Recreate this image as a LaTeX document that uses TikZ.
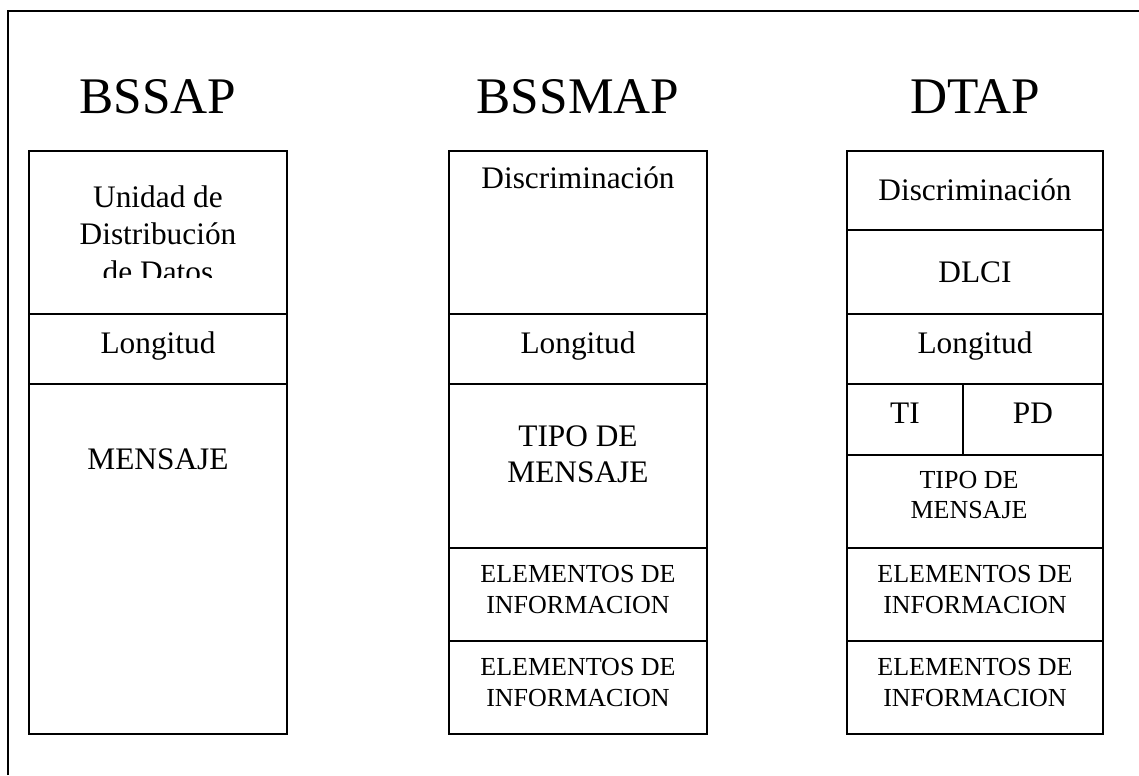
\documentclass[tikz,border=0pt]{standalone}
\usepackage{fontspec}
\setmainfont{Liberation Serif}
\begin{document}
\begin{tikzpicture}[x=0.75pt, y=-0.75pt, line width=1.5pt,
					title/.style={anchor=base, inner sep=0pt, font=\fontsize{38.5}{44}\selectfont},
					big/.style={anchor=base, inner sep=0pt, align=center, font=\fontsize{23.5}{27}\selectfont},
					small/.style={anchor=base, inner sep=0pt, align=center, font=\fontsize{19.5}{23.25}\selectfont}]
					
					\useasboundingbox (0,0) rectangle (1139,775);
					\coordinate (fa) at (7.5,775);
					\coordinate (fb) at (7.5,11);
					\coordinate (fc) at (1139,11);
					\draw (fa) -- (fb) -- (fc);
					
					\node[title] (bssap) at (158,113) {BSSAP};
					\node[title] (bssmap) at (578,113) {BSSMAP};
					\node[title] (dtap) at (975,113) {DTAP};
					
					\draw (29,151) rectangle (287,734);
					\draw (29,314) -- (287,314);
					\draw (29,384) -- (287,384);
					\begin{scope}
						\clip (29,151) rectangle (287,277);
						\node[big, font=\fontsize{23.5}{28}\selectfont] (udd) at (158,282) {Unidad de\\Distribución\\de Datos};
					\end{scope}
					\node[big] (lon1) at (158,353) {Longitud};
					\node[big] (men1) at (158,469) {MENSAJE};
					
					\draw (449,151) rectangle (707,734);
					\draw (449,314) -- (707,314);
					\draw (449,384) -- (707,384);
					\draw (449,548) -- (707,548);
					\draw (449,641) -- (707,641);
					\node[big] (dis2) at (578,188) {Discriminación};
					\node[big] (lon2) at (578,353) {Longitud};
					\node[big] (tip2) at (578,482) {TIPO DE\\MENSAJE};
					\node[small] (ele2a) at (578,613) {ELEMENTOS DE\\INFORMACION};
					\node[small] (ele2b) at (578,706) {ELEMENTOS DE\\INFORMACION};
					
					\draw (847,151) rectangle (1103,734);
					\draw (847,230) -- (1103,230);
					\draw (847,314) -- (1103,314);
					\draw (847,384) -- (1103,384);
					\draw (963,384) -- (963,455);
					\draw (847,455) -- (1103,455);
					\draw (847,548) -- (1103,548);
					\draw (847,641) -- (1103,641);
					\node[big] (dis3) at (975,200) {Discriminación};
					\node[big] (dlci) at (975,282) {DLCI};
					\node[big] (lon3) at (975,353) {Longitud};
					\node[big] (ti) at (905,423) {TI};
					\node[big] (pd) at (1033,423) {PD};
					\node[small, font=\fontsize{19.5}{22.5}\selectfont] (tip3) at (969,518) {TIPO DE\\MENSAJE};
					\node[small] (ele3a) at (975,613) {ELEMENTOS DE\\INFORMACION};
					\node[small] (ele3b) at (975,706) {ELEMENTOS DE\\INFORMACION};
				\end{tikzpicture}
\end{document}
